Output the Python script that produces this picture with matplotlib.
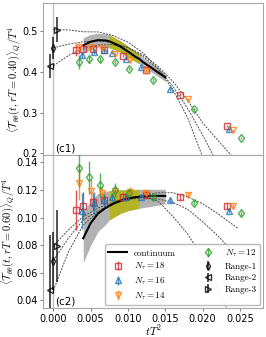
import numpy as np
import matplotlib
matplotlib.use("Agg")
import matplotlib.pyplot as plt
from matplotlib.font_manager import FontProperties

plt.rcParams['mathtext.fontset'] = 'cm'
plt.rcParams['font.family'] = ['DejaVu Sans']

# ---------------- data ----------------
x18 = [0.00304, 0.00393, 0.00527, 0.00679, 0.0093, 0.01242, 0.01697, 0.02322]
x16 = [0.0038, 0.0054, 0.0068, 0.0078, 0.0097, 0.0118, 0.0156, 0.0236]
x14 = [0.0035, 0.0050, 0.0065, 0.0083, 0.0103, 0.0124, 0.0180, 0.0241]
x12 = [0.0035, 0.0048, 0.0063, 0.0083, 0.0102, 0.0133, 0.0188, 0.0252]

# panel c1 (rT = 0.40)
y18_a = [0.453, 0.457, 0.457, 0.453, 0.440, 0.405, 0.344, 0.267]
e18_a = [0.015, 0.006, 0.004, 0.004, 0.003, 0.003, 0.003, 0.003]
y16_a = [0.441, 0.450, 0.453, 0.447, 0.432, 0.411, 0.357, 0.259]
e16_a = [0.008, 0.005, 0.004, 0.003, 0.003, 0.003, 0.003, 0.003]
y14_a = [0.462, 0.460, 0.4575, 0.445, 0.429, 0.403, 0.333, 0.257]
e14_a = [0.010, 0.006, 0.004, 0.003, 0.003, 0.003, 0.003, 0.003]
y12_a = [0.425, 0.4305, 0.4305, 0.424, 0.4076, 0.3798, 0.308, 0.238]
e12_a = [0.017, 0.009, 0.007, 0.005, 0.004, 0.004, 0.003, 0.003]

# panel c2 (rT = 0.60)
y18_b = [0.1055, 0.1086, 0.1115, 0.1127, 0.1151, 0.1164, 0.1149, 0.1084]
e18_b = [0.0145, 0.010, 0.006, 0.004, 0.003, 0.002, 0.002, 0.002]
y16_b = [0.1050, 0.1108, 0.1125, 0.1151, 0.1151, 0.1151, 0.1127, 0.1050]
e16_b = [0.013, 0.008, 0.005, 0.003, 0.003, 0.002, 0.002, 0.002]
y14_b = [0.1253, 0.1195, 0.1176, 0.1190, 0.1188, 0.1180, 0.1166, 0.1084]
e14_b = [0.0125, 0.0085, 0.005, 0.003, 0.003, 0.002, 0.002, 0.002]
y12_b = [0.1358, 0.1292, 0.1236, 0.1200, 0.1176, 0.1147, 0.1108, 0.1031]
e12_b = [0.014, 0.012, 0.009, 0.005, 0.003, 0.002, 0.002, 0.002]

# extrapolated values at t -> 0
xr = [0.0000, -0.00045, 0.00045]          # Range-1, Range-2, Range-3
yr_a = [0.459, 0.415, 0.504]
er_a = [0.027, 0.030, 0.030]
yr_b = [0.0689, 0.0472, 0.0795]
er_b = [0.021, 0.040, 0.026]

# extrapolation curves
c1_x_r1 = [0.0, 0.002, 0.004, 0.006, 0.008, 0.010, 0.012, 0.014, 0.016, 0.018, 0.020, 0.0214]
c1_y_r1 = [0.459, 0.468, 0.474, 0.476, 0.472, 0.460, 0.438, 0.408, 0.365, 0.310, 0.245, 0.196]
c1_x_r2 = [0.0, 0.002, 0.004, 0.006, 0.008, 0.010, 0.012, 0.014, 0.016, 0.018, 0.020, 0.022, 0.0238]
c1_y_r2 = [0.415, 0.440, 0.458, 0.466, 0.467, 0.460, 0.442, 0.414, 0.377, 0.330, 0.275, 0.233, 0.196]
c1_x_r3 = [0.0, 0.002, 0.004, 0.006, 0.008, 0.010, 0.012, 0.014, 0.016, 0.018, 0.0199]
c1_y_r3 = [0.504, 0.503, 0.4985, 0.498, 0.489, 0.473, 0.447, 0.409, 0.357, 0.287, 0.196]

c2_x_r1 = [0.0, 0.002, 0.004, 0.006, 0.008, 0.010, 0.012, 0.014, 0.016, 0.018, 0.020, 0.022, 0.024, 0.0248]
c2_y_r1 = [0.0689, 0.085, 0.0983, 0.105, 0.110, 0.113, 0.1145, 0.1135, 0.111, 0.106, 0.097, 0.087, 0.0755, 0.071]
c2_x_r2 = [0.0, 0.002, 0.004, 0.006, 0.008, 0.010, 0.012, 0.014, 0.016, 0.018, 0.020, 0.022, 0.0247]
c2_y_r2 = [0.0472, 0.075, 0.0947, 0.104, 0.110, 0.1135, 0.116, 0.118, 0.118, 0.115, 0.110, 0.103, 0.0923]
c2_x_r3 = [0.0, 0.002, 0.004, 0.006, 0.008, 0.010, 0.012, 0.014, 0.016, 0.018, 0.020, 0.022, 0.0232]
c2_y_r3 = [0.0795, 0.091, 0.1007, 0.107, 0.111, 0.1145, 0.1150, 0.112, 0.101, 0.088, 0.071, 0.049, 0.0345]

# continuum line and band
cont_x = [0.004, 0.005, 0.006, 0.007, 0.0075, 0.008, 0.009, 0.010, 0.011, 0.0115, 0.012, 0.013, 0.014, 0.015]
c1_mid = [0.465, 0.474, 0.478, 0.477, 0.475, 0.471, 0.462, 0.450, 0.437, 0.432, 0.424, 0.412, 0.399, 0.387]
c1_lo = [0.446, 0.456, 0.461, 0.461, 0.459, 0.456, 0.448, 0.437, 0.425, 0.420, 0.413, 0.401, 0.389, 0.377]
c1_hi = [0.484, 0.492, 0.495, 0.493, 0.491, 0.486, 0.476, 0.463, 0.449, 0.444, 0.435, 0.423, 0.409, 0.397]
c2_mid = [0.085, 0.096, 0.103, 0.107, 0.1085, 0.110, 0.1123, 0.1138, 0.1148, 0.1151, 0.1153, 0.1156, 0.1157, 0.1157]
c2_lo = [0.0672, 0.080, 0.090, 0.095, 0.0983, 0.100, 0.103, 0.105, 0.1062, 0.1067, 0.1072, 0.108, 0.109, 0.110]
c2_hi = [0.104, 0.112, 0.1176, 0.119, 0.1195, 0.1198, 0.120, 0.1202, 0.1204, 0.1205, 0.1205, 0.1205, 0.1205, 0.1205]
olive_range = (0.0075, 0.0115)

xticks = [0.000, 0.005, 0.010, 0.015, 0.020, 0.025]
yticks_a = [0.2, 0.3, 0.4, 0.5]
yticks_b = [0.04, 0.06, 0.08, 0.10, 0.12, 0.14]

# ---------------- plotting ----------------
red, blue, orange, green = '#d62728', '#1f77b4', '#ff7f0e', '#2ca02c'

fig = plt.figure(figsize=(2.66, 3.37), dpi=100)
ax1 = fig.add_axes([0.163, 0.540, 0.826, 0.451])
ax2 = fig.add_axes([0.163, 0.086, 0.826, 0.454])

series = [
    (x18, red, 's', r'$N_\tau=18$'),
    (x16, blue, '^', r'$N_\tau=16$'),
    (x14, orange, 'v', r'$N_\tau=14$'),
    (x12, green, 'd', r'$N_\tau=12$'),
]
ranges = [('d', 'Range-1'), ('<', 'Range-2'), ('>', 'Range-3')]


def draw(ax, ys, es, yr, er, curves, mid, lo, hi, label):
    ax.axvline(0.0, color='0.75', lw=1.0, zorder=0)
    ax.fill_between(cont_x, lo, hi, color='0.6', alpha=0.75, lw=0, zorder=1)
    xa = np.array(cont_x)
    m = (xa >= olive_range[0]) & (xa <= olive_range[1])
    ax.fill_between(xa[m], np.array(lo)[m], np.array(hi)[m], color='#b5b518', alpha=0.9, lw=0, zorder=1.5)
    hc, = ax.plot(cont_x, mid, color='black', lw=1.5, zorder=3, label='continuum')
    for cx, cy in curves:
        ax.plot(cx, cy, color='0.3', lw=0.7, ls=(0, (2.0, 1.2)), zorder=2)
    handles = []
    for (xs, col, mk, lab), y, e in zip(series, ys, es):
        h = ax.errorbar(xs, y, yerr=e, fmt=mk, color=col, mfc='none', mec=col, ms=4.5, mew=1.0,
                        elinewidth=1.0, capsize=0, alpha=0.8, zorder=4, label=lab)
        handles.append(h)
    for (mk, lab), xx, y, e in zip(ranges, xr, yr, er):
        h = ax.errorbar([xx], [y], yerr=[e], fmt=mk, color='black', mfc='none', mec='black', ms=4,
                        mew=1.0, elinewidth=1.2, capsize=0, alpha=0.8, zorder=5, label=lab)
        handles.append(h)
    ax.set_xlim(-0.00134, 0.0281)
    ax.set_xticks(xticks)
    for sp in ax.spines.values():
        sp.set_color('0.65')
    ax.tick_params(labelsize=7, length=2.5, width=0.6, color='0.4', pad=1.5)
    ax.set_ylabel(label, fontsize=7.6, labelpad=0.3)
    return [hc] + handles


draw(ax1, [y18_a, y16_a, y14_a, y12_a], [e18_a, e16_a, e14_a, e12_a], yr_a, er_a,
     [(c1_x_r1, c1_y_r1), (c1_x_r2, c1_y_r2), (c1_x_r3, c1_y_r3)],
     c1_mid, c1_lo, c1_hi, r'$\langle\mathcal{T}_{\theta\theta}(t,rT=0.40)\rangle_Q/T^4$')
ax1.set_ylim(0.196, 0.569)
ax1.set_yticks(yticks_a)
ax1.set_yticklabels(['0.2', '0.3', '0.4', '0.5'])
ax1.tick_params(labelbottom=False)
ax1.text(0.055, 0.012, '(c1)', transform=ax1.transAxes, fontsize=7.5, va='bottom', ha='left')

hs = draw(ax2, [y18_b, y16_b, y14_b, y12_b], [e18_b, e16_b, e14_b, e12_b], yr_b, er_b,
          [(c2_x_r1, c2_y_r1), (c2_x_r2, c2_y_r2), (c2_x_r3, c2_y_r3)],
          c2_mid, c2_lo, c2_hi, r'$\langle\mathcal{T}_{\theta\theta}(t,rT=0.60)\rangle_Q/T^4$')
ax2.set_ylim(0.0345, 0.1453)
ax2.set_yticks(yticks_b)
ax2.set_yticklabels(['0.04', '0.06', '0.08', '0.10', '0.12', '0.14'])
ax2.set_xticklabels(['0.000', '0.005', '0.010', '0.015', '0.020', '0.025'])
ax2.set_xlabel(r'$tT^2$', fontsize=8, labelpad=0)
ax2.text(0.055, 0.01, '(c2)', transform=ax2.transAxes, fontsize=7.5, va='bottom', ha='left')

ax2.legend(hs, [h.get_label() for h in hs], ncol=2, loc='lower right',
           prop=FontProperties(family='cmr10', size=6.5), borderaxespad=0.3,
           handlelength=2.0, handletextpad=0.8, columnspacing=2.6, labelspacing=0.35,
           edgecolor='0.7', framealpha=0.9)

fig.savefig('out.png', dpi=100)
